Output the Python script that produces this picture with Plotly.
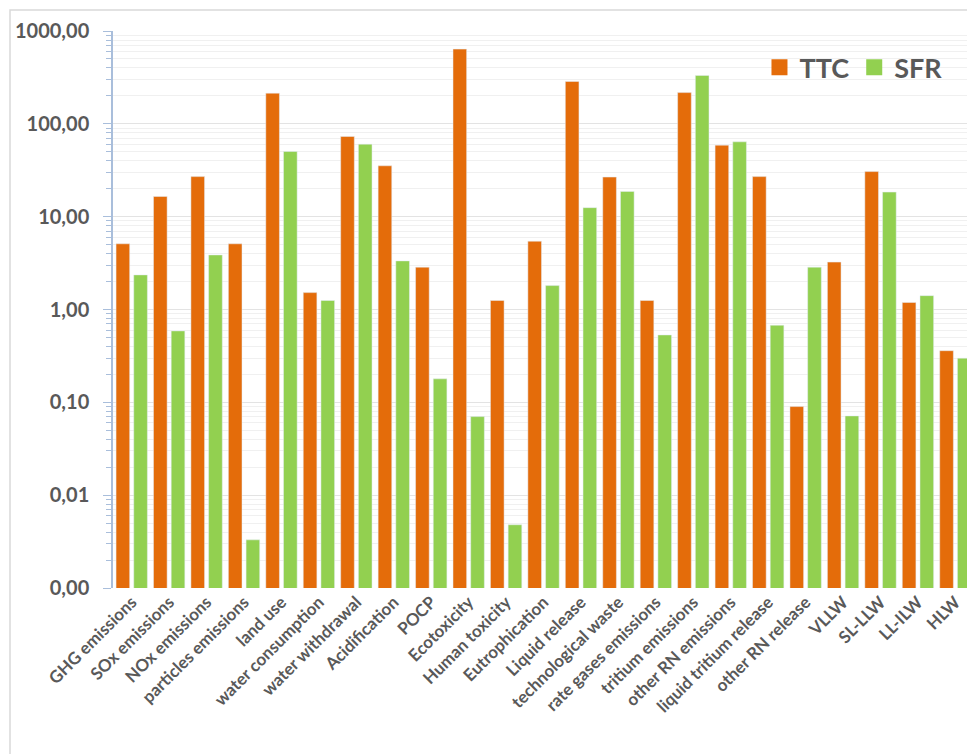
import plotly.graph_objects as go

categories = ["GHG emissions", "SOx emissions", "NOx emissions", "particles emissions",
              "land use", "water consumption", "water withdrawal", "Acidification", "POCP",
              "Ecotoxicity", "Human toxicity", "Eutrophication", "Liquid release",
              "technological waste", "rate gases emissions", "tritium emissions",
              "other RN emissions", "liquid tritium release", "other RN release",
              "VLLW", "SL-LLW", "LL-ILW", "HLW"]
ttc = [5.1, 16.5, 27.0, 5.1, 214, 1.52, 73, 35.3, 2.86, 638, 1.25, 5.44, 286,
       26.7, 1.25, 217, 58.9, 27.0, 0.09, 3.24, 30.6, 1.19, 0.36]
sfr = [2.36, 0.588, 3.87, 0.0033, 50.3, 1.25, 60.4, 3.34, 0.179, 0.0702, 0.0048, 1.81, 12.5,
       18.7, 0.532, 332, 64, 0.677, 2.86, 0.0714, 18.4, 1.41, 0.299]
tick_vals = [0.001, 0.01, 0.1, 1, 10, 100, 1000]
tick_text = ["0,00", "0,01", "0,10", "1,00", "10,00", "100,00", "1000,00"]

ORANGE = "#E46C0A"
GREEN = "#92D050"
TEXT = "#595959"
AXIS = "#A9BEDB"

fig = go.Figure()
fig.add_trace(go.Bar(x=categories, y=ttc, name="TTC", marker_color=ORANGE, showlegend=False))
fig.add_trace(go.Bar(x=categories, y=sfr, name="SFR", marker_color=GREEN, showlegend=False))
# legend entries
fig.add_trace(go.Scatter(x=[categories[0]], y=[None], mode="markers", name="TTC",
                         marker=dict(symbol="square", size=16, color=ORANGE)))
fig.add_trace(go.Scatter(x=[categories[0]], y=[None], mode="markers", name="SFR",
                         marker=dict(symbol="square", size=16, color=GREEN)))

fig.update_layout(
    width=967, height=754,
    margin=dict(l=113, r=0, t=31, b=166, autoexpand=False),
    paper_bgcolor="white", plot_bgcolor="white",
    barmode="group", bargap=0.054, bargroupgap=0.23,
    font=dict(family="Lato", color=TEXT),
    legend=dict(orientation="h", x=0.757, y=0.978, xanchor="left", yanchor="top",
                font=dict(size=27, weight="bold", color=TEXT), itemsizing="trace",
                bgcolor="rgba(0,0,0,0)"),
    shapes=[dict(type="rect", xref="paper", yref="paper",
                 x0=-0.1206, x1=1.2, y0=-0.5, y1=1.0377,
                 line=dict(color="#D9D9D9", width=1.5), layer="below")],
)
fig.update_xaxes(
    type="category", range=[-0.5, 22.31], tickangle=-45, automargin=False,
    tickfont=dict(size=17, weight="bold", color=TEXT),
    showline=False, ticks="", showgrid=False,
)
fig.update_yaxes(
    type="log", range=[-3, 3], automargin=False,
    tickmode="array", tickvals=tick_vals, ticktext=tick_text,
    tickfont=dict(size=20, weight="bold", color=TEXT),
    ticks="outside", ticklen=8, tickcolor=AXIS, ticklabelstandoff=10,
    showline=True, linecolor=AXIS, linewidth=1.5,
    showgrid=True, gridcolor="#E3E3E3", gridwidth=1,
    minor=dict(dtick="D1", ticks="outside", ticklen=5, tickcolor=AXIS,
               showgrid=True, gridcolor="#F0F0F0"),
    zeroline=False,
)
fig.write_html("out.html", config={"displayModeBar": False},
               post_script="document.body.style.margin='0';document.body.style.overflow='hidden';")
